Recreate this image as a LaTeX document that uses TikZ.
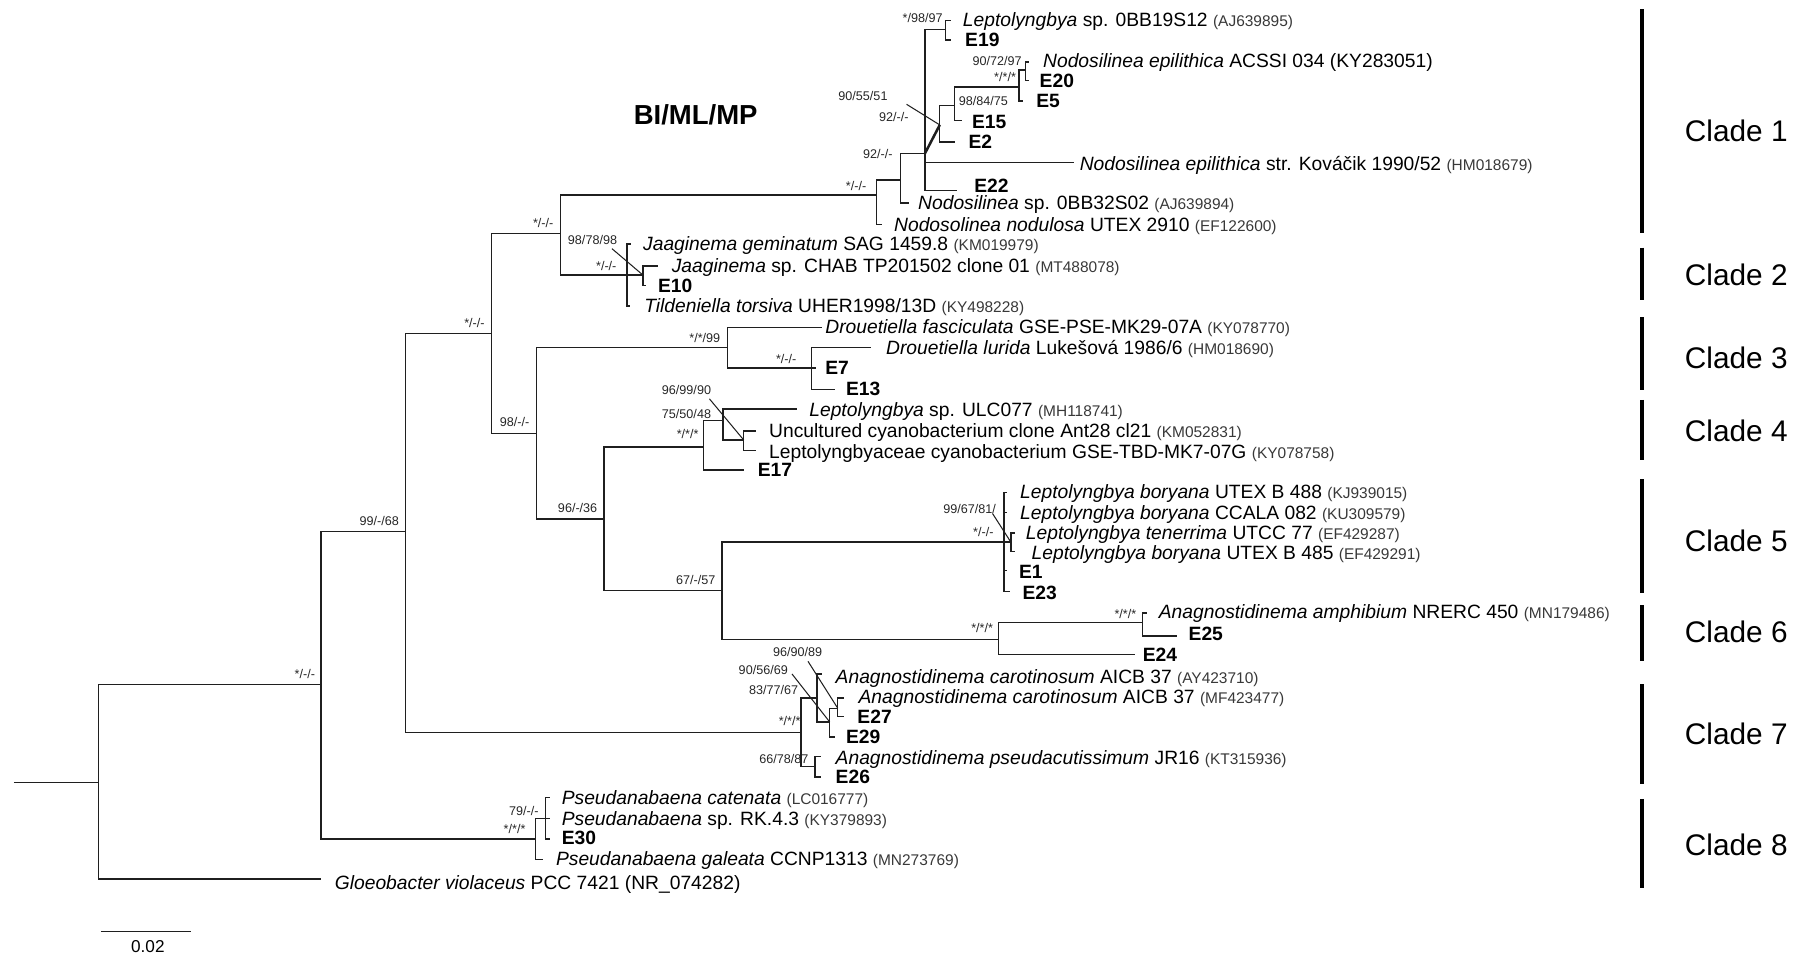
\documentclass[tikz,border=0pt]{standalone}
\usepackage{fontspec}
\setmainfont{Liberation Sans}
\newcommand{\accn}[1]{{\fontsize{13.5}{13.5}\selectfont\color{black!78}#1}}
\begin{document}
\begin{tikzpicture}[x=1pt,y=-1pt,
  br/.style={line width=1.2pt,draw=black!88},
  bb/.style={line width=2.2pt,draw=black!88},
  ptr/.style={line width=0.9pt,draw=black!88},
  cbar/.style={line width=3.6pt,draw=black},
  tx/.style={anchor=base west,inner sep=0pt,yshift=-6pt,font=\fontsize{16.8}{16.8}\selectfont},
  ex/.style={anchor=base west,inner sep=0pt,yshift=-6pt,font=\fontsize{16.8}{16.8}\selectfont\bfseries},
  lb/.style={inner sep=0pt,font=\fontsize{11}{11}\selectfont,text=black!85},
  cl/.style={inner sep=0pt,font=\fontsize{26}{26}\selectfont}]
\useasboundingbox (0,0) rectangle (1568,835);

% ---- internal nodes and tips ----
\coordinate (root) at (12,683);
\coordinate (n1) at (86,683);
\coordinate (n2) at (280,597);
\coordinate (gloeo) at (280,767);
\coordinate (n3) at (354,464);
\coordinate (np) at (467,732);
\coordinate (n4) at (429,291);
\coordinate (c7) at (699,639);
\coordinate (n5) at (489,204);
\coordinate (n6) at (468,378);
\coordinate (c1) at (765,170);
\coordinate (c2) at (547,240);
\coordinate (c3) at (635,303);
\coordinate (n7) at (527,453);
\coordinate (c4) at (614,390);
\coordinate (n8) at (630,515);
\coordinate (c5) at (876,473);
\coordinate (c6) at (871,558);
% clade 1
\coordinate (c1b) at (786,157);
\coordinate (tnodu) at (770,196);
\coordinate (c1c) at (807,134);
\coordinate (tnodsp) at (793,177);
\coordinate (c1d) at (825,26);
\coordinate (c1e) at (820,109);
\coordinate (tkov) at (937,142);
\coordinate (te22) at (835,166);
\coordinate (tlep19) at (830,18);
\coordinate (te19) at (830,35);
\coordinate (c1f) at (833,92);
\coordinate (te2) at (833,124);
\coordinate (c1g) at (889,76);
\coordinate (te15) at (839,105);
\coordinate (c1h) at (895,61);
\coordinate (te5) at (893,88);
\coordinate (tacssi) at (898,54);
\coordinate (te20) at (898,70);
% clade 2
\coordinate (tgem) at (551,213);
\coordinate (c2a) at (561,240);
\coordinate (ttild) at (550,267);
\coordinate (tjsp) at (574,232);
\coordinate (te10) at (564,249);
% clade 3
\coordinate (tfasc) at (717,286);
\coordinate (c3a) at (708,321);
\coordinate (tlur) at (760,303);
\coordinate (te7) at (712,321);
\coordinate (te13) at (729,340);
% clade 4
\coordinate (c4a) at (631,367);
\coordinate (te17) at (649,410);
\coordinate (tulc) at (695,357);
\coordinate (c4b) at (649,384);
\coordinate (tunc) at (660,376);
\coordinate (tlepf) at (660,393);
% clade 5
\coordinate (tb488) at (879,430);
\coordinate (tccala) at (879,447);
\coordinate (c5a) at (882,473);
\coordinate (te1) at (879,498);
\coordinate (te23) at (881,516);
\coordinate (tten) at (886,465);
\coordinate (tb485) at (886,481);
% clade 6
\coordinate (c6a) at (997,543);
\coordinate (te24) at (990,571);
\coordinate (tamph) at (1001,535);
\coordinate (te25) at (1027,555);
% clade 7
\coordinate (c7a) at (713,609);
\coordinate (c7c) at (711,669);
\coordinate (tay) at (717,588);
\coordinate (c7b) at (724,630);
\coordinate (c7d) at (731,618);
\coordinate (te29) at (729,643);
\coordinate (tmf) at (736,609);
\coordinate (te27) at (736,625);
\coordinate (tpse) at (716,660);
\coordinate (te26) at (716,678);
% clade 8
\coordinate (np2) at (476,714);
\coordinate (tgal) at (474,750);
\coordinate (tcat) at (480,696);
\coordinate (trk) at (480,714);
\coordinate (te30) at (480,732);

% ---- branches ----
\draw[br] (root) -- (n1);
\draw[br] (n1) |- (n2) (n1) |- (gloeo);
\draw[br] (n2) |- (n3) (n2) |- (np);
\draw[br] (n3) |- (n4) (n3) |- (c7);
\draw[br] (n4) |- (n5) (n4) |- (n6);
\draw[br] (n5) |- (c1) (n5) |- (c2);
\draw[br] (n6) |- (c3) (n6) |- (n7);
\draw[br] (n7) |- (c4) (n7) |- (n8);
\draw[br] (n8) |- (c5) (n8) |- (c6);
% clade 1
\draw[br] (c1) |- (c1b) (c1) |- (tnodu);
\draw[br] (c1b) |- (c1c) (c1b) |- (tnodsp);
\draw[br] (c1c) |- (c1d) (c1c) |- (tkov) (c1c) |- (te22);
\draw[bb] (c1c) -- (c1e);
\draw[br] (c1d) |- (tlep19) (c1d) |- (te19);
\draw[br] (c1e) |- (c1f) (c1e) |- (te2);
\draw[br] (c1f) |- (c1g) (c1f) |- (te15);
\draw[br] (c1g) |- (c1h) (c1g) |- (te5);
\draw[br] (c1h) |- (tacssi) (c1h) |- (te20);
% clade 2
\draw[br] (c2) |- (tgem) (c2) |- (ttild);
\draw[bb] (c2) -- (c2a);
\draw[br] (c2a) |- (tjsp) (c2a) |- (te10);
% clade 3
\draw[br] (c3) |- (tfasc) (c3) |- (c3a);
\draw[br] (c3a) |- (tlur) (c3a) -- (te7) (c3a) |- (te13);
% clade 4
\draw[br] (c4) |- (c4a) (c4) |- (te17);
\draw[br] (c4a) |- (tulc) (c4a) |- (c4b);
\draw[br] (c4b) |- (tunc) (c4b) |- (tlepf);
% clade 5
\draw[br] (c5) |- (tb488) (c5) |- (tccala) (c5) -- (c5a) (c5) |- (te1) (c5) |- (te23);
\draw[br] (c5a) |- (tten) (c5a) |- (tb485);
% clade 6
\draw[br] (c6) |- (c6a) (c6) |- (te24);
\draw[br] (c6a) |- (tamph) (c6a) |- (te25);
% clade 7
\draw[br] (c7) |- (c7a) (c7) |- (c7c);
\draw[br] (c7a) |- (tay);
\draw[bb] (c7a) |- (c7b);
\draw[br] (c7b) |- (c7d) (c7b) |- (te29);
\draw[br] (c7d) |- (tmf) (c7d) |- (te27);
\draw[br] (c7c) |- (tpse) (c7c) |- (te26);
% clade 8
\draw[br] (np) |- (np2) (np) |- (tgal);
\draw[br] (np2) |- (tcat) (np2) -- (trk) (np2) |- (te30);

% ---- support values ----
\node[lb] (l01) at (266,588) {*/-/-};
\node[lb] (l02) at (331,455) {99/-/68};
\node[lb] (l03) at (414,282) {*/-/-};
\node[lb] (l04) at (474,195) {*/-/-};
\node[lb] (l05) at (449,368) {98/-/-};
\node[lb] (l06) at (747,162) {*/-/-};
\node[lb] (l07) at (529,232) {*/-/-};
\node[lb] (l08) at (517,209) {98/78/98};
\node[lb] (l09) at (615,295) {*/*/99};
\node[lb] (l10) at (686,313) {*/-/-};
\node[lb] (l11) at (504,443) {96/-/36};
\node[lb] (l12) at (600,379) {*/*/*};
\node[lb] (l13) at (599,340) {96/99/90};
\node[lb] (l14) at (599,361) {75/50/48};
\node[lb] (l15) at (607,506) {67/-/57};
\node[lb] (l16) at (846,444) {99/67/81/};
\node[lb] (l17) at (858,464) {*/-/-};
\node[lb] (l18) at (857,548) {*/*/*};
\node[lb] (l19) at (982,536) {*/*/*};
\node[lb] (l20) at (696,569) {96/90/89};
\node[lb] (l21) at (666,585) {90/56/69};
\node[lb] (l22) at (675,602) {83/77/67};
\node[lb] (l23) at (689,629) {*/*/*};
\node[lb] (l24) at (684,662) {66/78/87};
\node[lb] (l25) at (457,708) {79/-/-};
\node[lb] (l26) at (449,723) {*/*/*};
\node[lb] (l27) at (877,67) {*/*/*};
\node[lb] (l28) at (870,53) {90/72/97};
\node[lb] (l29) at (858,88) {98/84/75};
\node[lb] (l30) at (753,84) {90/55/51};
\node[lb] (l31) at (780,102) {92/-/-};
\node[lb] (l32) at (766,134) {92/-/-};
\node[lb] (l33) at (805,16) {*/98/97};

% ---- pointer lines ----
\coordinate (p08) at (534,217);
\coordinate (p13) at (619,348);
\coordinate (p16) at (866,448);
\coordinate (p20) at (705,577);
\coordinate (p21) at (691,588);
\coordinate (p30) at (791,91);
\draw[ptr] (p08) -- (c2a);
\draw[ptr] (p13) -- (c4b);
\draw[ptr] (p16) -- (c5a);
\draw[ptr] (p20) -- (c7d);
\draw[ptr] (p21) -- (c7b);
\draw[ptr] (p30) -- (c1e);

% ---- taxa ----
\node[tx] (x01) at (840,17) {\textit{Leptolyngbya} sp. 0BB19S12 \accn{(AJ639895)}};
\node[ex] (x02) at (842,35) {E19};
\node[tx] (x03) at (910,53) {\textit{Nodosilinea epilithica} ACSSI 034 (KY283051)};
\node[ex] (x04) at (907,70) {E20};
\node[ex] (x05) at (904,88) {E5};
\node[ex] (x06) at (848,106) {E15};
\node[ex] (x07) at (845,124) {E2};
\node[tx] (x08) at (942,143) {\textit{Nodosilinea epilithica} str. Kováčik 1990/52 \accn{(HM018679)}};
\node[ex] (x09) at (850,162) {E22};
\node[tx] (x10) at (801,177) {\textit{Nodosilinea} sp. 0BB32S02 \accn{(AJ639894)}};
\node[tx] (x11) at (780,196) {\textit{Nodosolinea nodulosa} UTEX 2910 \accn{(EF122600)}};
\node[tx] (x12) at (561,213) {\textit{Jaaginema geminatum} SAG 1459.8 \accn{(KM019979)}};
\node[tx] (x13) at (586,232) {\textit{Jaaginema} sp. CHAB TP201502 clone 01 \accn{(MT488078)}};
\node[ex] (x14) at (574,249) {E10};
\node[tx] (x15) at (562,267) {\textit{Tildeniella torsiva} UHER1998/13D \accn{(KY498228)}};
\node[tx] (x16) at (720,285) {\textit{Drouetiella fasciculata} GSE-PSE-MK29-07A \accn{(KY078770)}};
\node[tx] (x17) at (773,303) {\textit{Drouetiella lurida} Lukešová 1986/6 \accn{(HM018690)}};
\node[ex] (x18) at (720,321) {E7};
\node[ex] (x19) at (738,339) {E13};
\node[tx] (x20) at (706,357) {\textit{Leptolyngbya} sp. ULC077 \accn{(MH118741)}};
\node[tx] (x21) at (671,376) {Uncultured cyanobacterium clone Ant28 cl21 \accn{(KM052831)}};
\node[tx] (x22) at (671,394) {Leptolyngbyaceae cyanobacterium GSE-TBD-MK7-07G \accn{(KY078758)}};
\node[ex] (x23) at (661,410) {E17};
\node[tx] (x24) at (890,429) {\textit{Leptolyngbya boryana} UTEX B 488 \accn{(KJ939015)}};
\node[tx] (x25) at (890,447) {\textit{Leptolyngbya boryana} CCALA 082 \accn{(KU309579)}};
\node[tx] (x26) at (895,465) {\textit{Leptolyngbya tenerrima} UTCC 77 \accn{(EF429287)}};
\node[tx] (x27) at (900,482) {\textit{Leptolyngbya boryana} UTEX B 485 \accn{(EF429291)}};
\node[ex] (x28) at (889,499) {E1};
\node[ex] (x29) at (892,517) {E23};
\node[tx] (x30) at (1011,534) {\textit{Anagnostidinema amphibium} NRERC 450 \accn{(MN179486)}};
\node[ex] (x31) at (1037,553) {E25};
\node[ex] (x32) at (997,571) {E24};
\node[tx] (x33) at (729,590) {\textit{Anagnostidinema carotinosum} AICB 37 \accn{(AY423710)}};
\node[tx] (x34) at (749,608) {\textit{Anagnostidinema carotinosum} AICB 37 \accn{(MF423477)}};
\node[ex] (x35) at (748,625) {E27};
\node[ex] (x36) at (738,643) {E29};
\node[tx] (x37) at (729,661) {\textit{Anagnostidinema pseudacutissimum} JR16 \accn{(KT315936)}};
\node[ex] (x38) at (729,678) {E26};
\node[tx] (x39) at (490,696) {\textit{Pseudanabaena catenata} \accn{(LC016777)}};
\node[tx] (x40) at (490,714) {\textit{Pseudanabaena} sp. RK.4.3 \accn{(KY379893)}};
\node[ex] (x41) at (490,731) {E30};
\node[tx] (x42) at (485,749) {\textit{Pseudanabaena galeata} CCNP1313 \accn{(MN273769)}};
\node[tx] (x43) at (292,770) {\textit{Gloeobacter violaceus} PCC 7421 (NR\_074282)};

% ---- title, scale bar ----
\node[inner sep=0pt,font=\fontsize{24}{24}\selectfont\bfseries] (title) at (607,100) {BI/ML/MP};
\coordinate (sb1) at (88,813);
\coordinate (sb2) at (167,813);
\draw[br] (sb1) -- (sb2);
\node[inner sep=0pt,font=\fontsize{15}{15}\selectfont] (sbl) at (129,826) {0.02};

% ---- clade bars ----
\foreach \i/\a/\b/\m in {1/8/203/114, 2/216/262/240, 3/277/340/312, 4/349/401/376,
                        5/418/517/472, 6/528/577/551, 7/597/684/640, 8/697/775/737}{
  \coordinate (cba\i) at (1433,\a);
  \coordinate (cbb\i) at (1433,\b);
  \draw[cbar] (cba\i) -- (cbb\i);
  \node[cl] (clade\i) at (1515,\m) {Clade \i};
}
\end{tikzpicture}
\end{document}
